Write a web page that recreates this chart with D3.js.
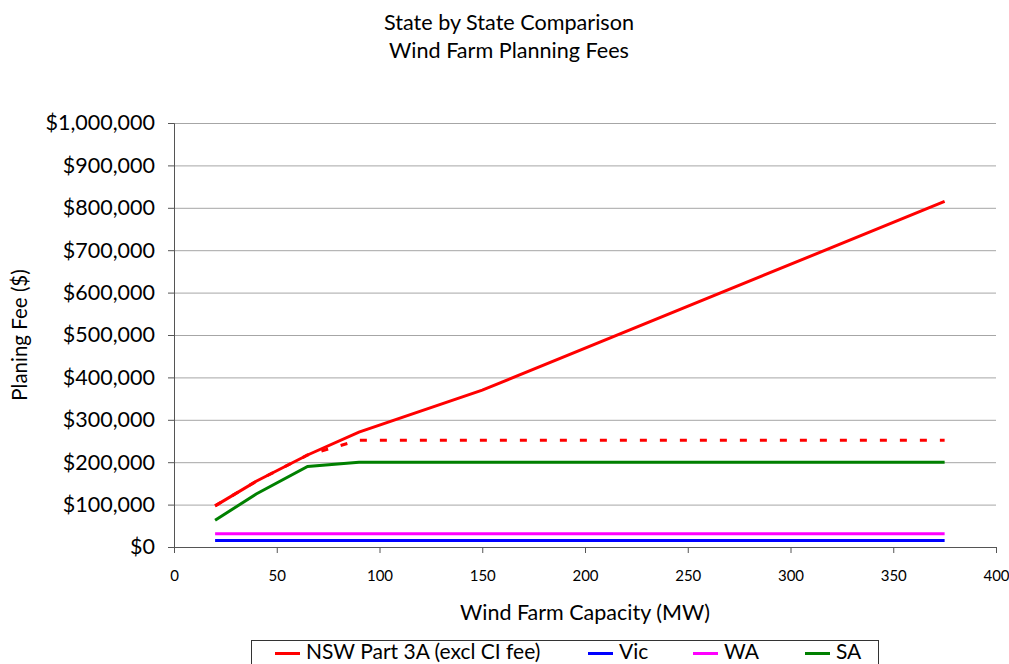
<!DOCTYPE html>
<html lang="en">
<head>
    <meta charset="UTF-8">
    <title>Wind Farm Planning Fees</title>
    <script src="https://d3js.org/d3.v7.min.js"></script>
    <style>
        body { margin: 0; background: #fff; }
        svg, svg text { font-family: Lato, "Open Sans", sans-serif; }
        svg { display: block; }
        .axis path, .axis line { stroke: #555; }
        .grid line { stroke: #a6a6a6; }
        .grid path { display: none; }
    </style>
</head>
<body>
    <div id="chart"></div>

    <script>
        // Data (capacity in MW, fee in $)
        const nswCapacity = [20, 40, 65, 90, 150, 375];
        const nswFee = [97000, 155000, 217000, 271000, 370000, 815000];
        const nswCappedCapacity = [20, 40, 65, 90, 375];
        const nswCappedFee = [97000, 155000, 217000, 252000, 252000];
        const vicCapacity = [20, 375];
        const vicFee = [15500, 15500];
        const waCapacity = [20, 375];
        const waFee = [31000, 31000];
        const saCapacity = [20, 40, 65, 90, 375];
        const saFee = [63000, 125000, 190000, 200000, 200000];

        const xTicks = [0, 50, 100, 150, 200, 250, 300, 350, 400];
        const yTicks = [0, 100000, 200000, 300000, 400000, 500000, 600000, 700000, 800000, 900000, 1000000];

        const series = [
            { name: "NSW Part 3A (excl CI fee)", x: nswCapacity, y: nswFee, color: "#ff0000", legend: true },
            { name: "NSW Part 3A (capped)", x: nswCappedCapacity, y: nswCappedFee, color: "#ff0000", dash: "7,13", legend: false },
            { name: "Vic", x: vicCapacity, y: vicFee, color: "#0000ff", legend: true },
            { name: "WA", x: waCapacity, y: waFee, color: "#ff00ff", legend: true },
            { name: "SA", x: saCapacity, y: saFee, color: "#008000", legend: true }
        ];

        const W = 1009, H = 664;
        const margin = { top: 123, right: 13, bottom: 117, left: 174 };
        const width = W - margin.left - margin.right,
              height = H - margin.top - margin.bottom;

        const svg = d3.select("#chart").append("svg")
            .attr("width", W)
            .attr("height", H);

        // Titles
        svg.append("text")
            .attr("x", 509).attr("y", 30)
            .attr("text-anchor", "middle")
            .style("font-size", "21.6px")
            .text("State by State Comparison");
        svg.append("text")
            .attr("x", 509).attr("y", 58)
            .attr("text-anchor", "middle")
            .style("font-size", "21.6px")
            .text("Wind Farm Planning Fees");

        const g = svg.append("g")
            .attr("transform", `translate(${margin.left},${margin.top})`);

        const x = d3.scaleLinear().domain([0, 400]).range([0, width]);
        const y = d3.scaleLinear().domain([0, 1000000]).range([height, 0]);

        // Gridlines
        g.append("g")
            .attr("class", "grid")
            .call(d3.axisLeft(y).tickValues(yTicks.slice(1)).tickSize(-width).tickFormat(""));

        // Y axis
        const yAxis = g.append("g")
            .attr("class", "axis")
            .call(d3.axisLeft(y).tickValues(yTicks).tickSize(6).tickPadding(13)
                .tickFormat(d => "$" + d3.format(",")(d)));
        yAxis.selectAll("text").style("font-size", "21.5px").attr("fill", "#000");

        // X axis
        const xAxis = g.append("g")
            .attr("class", "axis")
            .attr("transform", `translate(0,${height})`)
            .call(d3.axisBottom(x).tickValues(xTicks).tickSize(6).tickPadding(17));
        xAxis.selectAll("text").style("font-size", "15px").attr("fill", "#000");

        // Axis titles
        svg.append("text")
            .attr("x", margin.left + x(200)).attr("y", 620)
            .attr("text-anchor", "middle")
            .style("font-size", "21.5px")
            .text("Wind Farm Capacity (MW)");
        svg.append("text")
            .attr("transform", `translate(27,335) rotate(-90)`)
            .attr("text-anchor", "middle")
            .style("font-size", "20.5px")
            .text("Planing Fee ($)");

        // Lines
        const line = d3.line().x(d => x(d[0])).y(d => y(d[1]));
        series.forEach(s => {
            g.append("path")
                .datum(d3.zip(s.x, s.y))
                .attr("fill", "none")
                .attr("stroke", s.color)
                .attr("stroke-width", 3)
                .attr("stroke-dasharray", s.dash || null)
                .attr("d", line);
        });

        // Legend
        const legend = svg.append("g");
        legend.append("rect")
            .attr("x", 251.5).attr("y", 640.5)
            .attr("width", 627).attr("height", 40)
            .attr("fill", "#fff")
            .attr("stroke", "#333");
        const legendX = [275, 588, 693, 805];
        series.filter(s => s.legend).forEach((s, i) => {
            legend.append("line")
                .attr("x1", legendX[i]).attr("x2", legendX[i] + 25)
                .attr("y1", 653.5).attr("y2", 653.5)
                .attr("stroke", s.color)
                .attr("stroke-width", 3);
            legend.append("text")
                .attr("x", legendX[i] + 31).attr("y", 659)
                .style("font-size", "21px")
                .text(s.name);
        });
    </script>
</body>
</html>
